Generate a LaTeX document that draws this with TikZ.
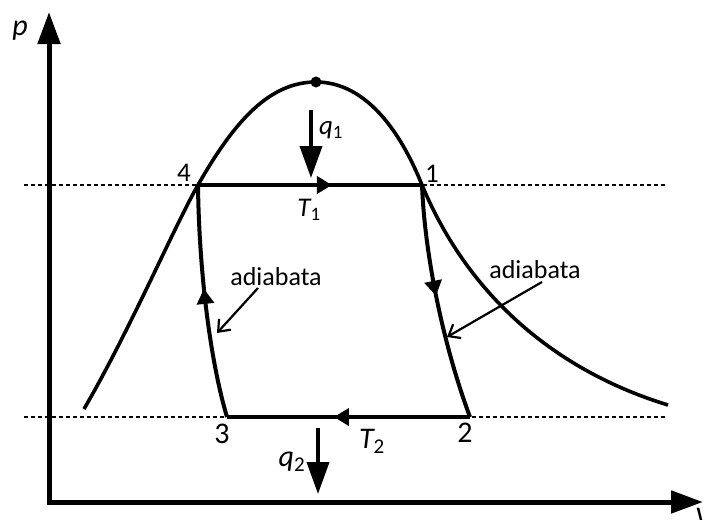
\documentclass[tikz,border=0pt]{standalone}
\usepackage{fontspec}
\setmainfont{Carlito}
\usetikzlibrary{arrows.meta,decorations.markings}
\begin{document}
\begin{tikzpicture}[x=1pt,y=-1pt,
  axisline/.style={line width=5pt,line join=miter},
  cycleline/.style={line width=4pt,line join=round},
  domeline/.style={line width=3.6pt},
  isoline/.style={line width=2.2pt,dash pattern=on 4pt off 3pt},
  annot/.style={line width=2.2pt,-{Straight Barb[length=10pt,width=16pt]}},
  heatarrow/.style={line width=3.8pt,-{Triangle[length=32pt,width=22pt]}},
  midarrow/.style={postaction={decorate},decoration={markings,
     mark=at position #1 with {\arrow{Triangle[length=15pt,width=17pt]}}}},
  lbl/.style={inner sep=0pt,font=\fontsize{27}{32}\selectfont},
  lblbig/.style={inner sep=0pt,font=\fontsize{30}{35}\selectfont},
  ilbl/.style={inner sep=0pt,font=\fontsize{27}{32}\selectfont\itshape},
  ilblbig/.style={inner sep=0pt,font=\fontsize{30}{35}\selectfont\itshape},
  adlbl/.style={inner sep=0pt,font=\fontsize{26}{31}\selectfont}
]
\useasboundingbox (0,0) rectangle (705,520);

% coordinates
\coordinate (O) at (49,502);
\coordinate (Ytop) at (49,12);
\coordinate (Xend) at (703,502);
\coordinate (P1) at (422,185);
\coordinate (P2) at (470,417);
\coordinate (P3) at (227,417);
\coordinate (P4) at (198,185);
\coordinate (top) at (316,82);
\coordinate (domeL) at (84,409);
\coordinate (domeR) at (668,405);
\coordinate (dTa) at (24,185);
\coordinate (dTb) at (666,185);
\coordinate (dBa) at (24,417);
\coordinate (dBb) at (666,417);
\coordinate (q1s) at (311,110);
\coordinate (q1e) at (311,178);
\coordinate (q2s) at (318,428);
\coordinate (q2e) at (318,494);
\coordinate (aLs) at (258,288);
\coordinate (aLe) at (217,333);
\coordinate (aRs) at (542,282);
\coordinate (aRe) at (447,337);

% dashed isotherms
\draw[isoline] (dTa) -- (dTb);
\draw[isoline] (dBa) -- (dBb);

% axes
\draw[axisline,{Triangle[length=32pt,width=22pt]}-{Triangle[length=32pt,width=22pt]}] (Ytop) -- (O) -- (Xend);

% saturation dome
\draw[domeline] (domeL) .. controls (130,330) and (175,225) .. (P4)
  .. controls (235,120) and (270,82) .. (top)
  .. controls (365,82) and (400,130) .. (P1)
  .. controls (470,300) and (560,372) .. (domeR);
\fill (top) circle (5.5pt);

% cycle
\draw[cycleline,midarrow=0.598] (P4) -- (P1);
\draw[cycleline,midarrow=0.47] (P1) .. controls (425,260) and (445,350) .. (P2);
\draw[cycleline,midarrow=0.56] (P2) -- (P3);
\draw[cycleline,midarrow=0.556] (P3) .. controls (210,360) and (199,270) .. (P4);

% heat arrows
\draw[heatarrow] (q1s) -- (q1e);
\draw[heatarrow] (q2s) -- (q2e);

% annotation arrows
\draw[annot] (aLs) -- (aLe);
\draw[annot] (aRs) -- (aRe);

% labels
\node[ilblbig] (lp) at (20,31) {p};
\node[ilblbig,anchor=north west] (lV) at (695,508) {V};
\node[lbl] (l4) at (184,173) {4};
\node[lbl] (l1) at (432,174) {1};
\node[lblbig] (l3) at (222,434) {3};
\node[lblbig] (l2) at (465,433) {2};
\node[ilbl] (lT1) at (309,210) {T\textsubscript{\upshape 1}};
\node[ilblbig] (lT2) at (372,441) {T\textsubscript{\upshape 2}};
\node[ilbl] (lq1) at (331,130) {q\textsubscript{\upshape 1}};
\node[ilblbig] (lq2) at (292,462) {q\textsubscript{\upshape 2}};
\node[adlbl] (adL) at (276,277) {adiabata};
\node[adlbl] (adR) at (535,270) {adiabata};
\end{tikzpicture}
\end{document}
